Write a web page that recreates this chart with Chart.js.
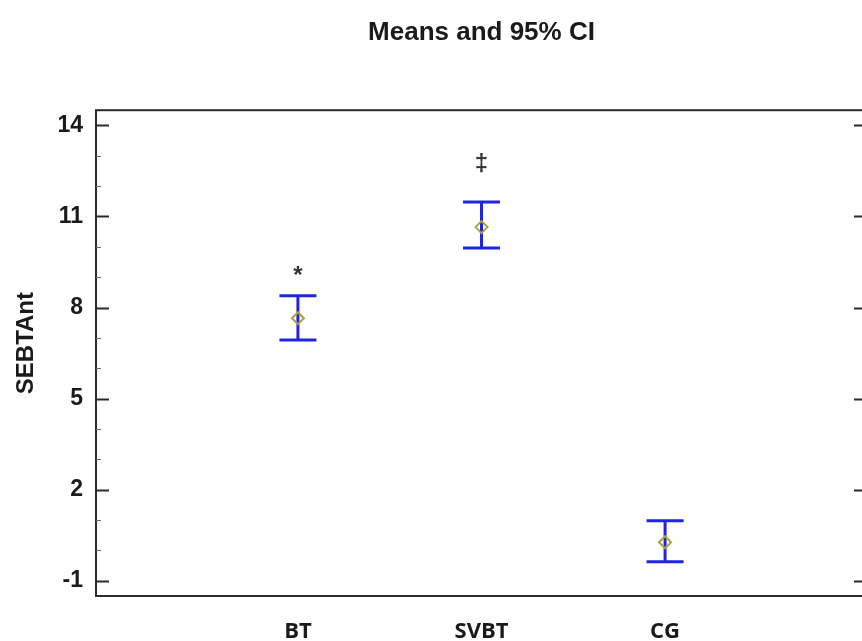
<!DOCTYPE html>
<html>
<head>
<meta charset="utf-8">
<script src="https://cdn.jsdelivr.net/npm/chart.js@4.4.1/dist/chart.umd.min.js"></script>
<style>
  html, body { margin: 0; padding: 0; background: #fff; overflow: hidden; }
</style>
</head>
<body>
<canvas id="chart" width="875" height="641"></canvas>
<script>
// data
const categories = ['BT', 'SVBT', 'CG'];
const means = [7.65, 10.65, 0.27];
const ciLower = [6.93, 9.96, -0.37];
const ciUpper = [8.39, 11.48, 0.98];
const marks = ['*', '\u2021', ''];
const markValues = [9.15, 12.85, null];
const yTicks = [-1, 2, 5, 8, 11, 14];

const blue = '#1f24e0';
const olive = '#a9a33c';
const frameColor = '#2b2b2b';
const textColor = '#1a1a1a';

// error bars, frame, inner ticks, axis title and significance marks
const ciPlugin = {
  id: 'ciBars',
  beforeDatasetsDraw(chart) {
    const { ctx, chartArea: a, scales: { x, y } } = chart;
    ctx.save();

    // frame
    ctx.strokeStyle = frameColor;
    ctx.lineWidth = 2;
    ctx.strokeRect(a.left, a.top, a.right - a.left, a.bottom - a.top);

    // inward ticks on left and right, minor every unit
    for (let v = Math.ceil(y.min); v <= y.max; v++) {
      const py = Math.round(y.getPixelForValue(v)) + 0.5;
      const major = yTicks.includes(v);
      const len = major ? 13 : 5;
      ctx.strokeStyle = major ? frameColor : '#666';
      ctx.lineWidth = major ? 2 : 1;
      ctx.beginPath();
      ctx.moveTo(a.left, py); ctx.lineTo(a.left + len, py);
      ctx.moveTo(a.right, py); ctx.lineTo(a.right - len, py);
      ctx.stroke();
    }

    // confidence intervals
    ctx.strokeStyle = blue;
    ctx.lineWidth = 3;
    categories.forEach((c, i) => {
      const px = x.getPixelForValue(i + 1);
      const lo = y.getPixelForValue(ciLower[i]);
      const hi = y.getPixelForValue(ciUpper[i]);
      const cap = 18.5;
      ctx.beginPath();
      ctx.moveTo(px, lo); ctx.lineTo(px, hi);
      ctx.moveTo(px - cap, lo); ctx.lineTo(px + cap, lo);
      ctx.moveTo(px - cap, hi); ctx.lineTo(px + cap, hi);
      ctx.stroke();
    });

    // marks above the intervals
    ctx.fillStyle = '#333';
    ctx.font = 'bold 24px "Liberation Sans"';
    ctx.textAlign = 'center';
    ctx.textBaseline = 'middle';
    marks.forEach((m, i) => {
      if (!m || markValues[i] == null) return;
      ctx.fillText(m, x.getPixelForValue(i + 1), y.getPixelForValue(markValues[i]) + 4);
    });

    // y axis title (sits a little above the plot centre in the original)
    ctx.translate(26, (a.top + a.bottom) / 2 - 10);
    ctx.rotate(-Math.PI / 2);
    ctx.fillStyle = textColor;
    ctx.font = 'bold 24px "Liberation Sans"';
    ctx.fillText('SEBTAnt', 0, 0);
    ctx.restore();
  }
};

new Chart(document.getElementById('chart'), {
  type: 'scatter',
  data: {
    datasets: [{
      label: 'Mean',
      data: means.map((m, i) => ({ x: i + 1, y: m })),
      pointStyle: 'rectRot',
      pointRadius: 6,
      pointHoverRadius: 6,
      borderColor: olive,
      backgroundColor: 'rgba(0,0,0,0)',
      borderWidth: 2,
    }],
  },
  options: {
    responsive: false,
    animation: false,
    layout: { padding: 0 },
    plugins: {
      legend: { display: false },
      tooltip: { enabled: false },
      title: {
        display: true,
        text: 'Means and 95% CI',
        fullSize: false,
        color: textColor,
        font: { family: 'Liberation Sans', size: 26, weight: 'bold' },
        padding: { top: 17, bottom: 62 },
      },
    },
    scales: {
      x: {
        type: 'linear',
        min: -0.1,
        max: 4.1,
        afterBuildTicks: (s) => { s.ticks = categories.map((c, i) => ({ value: i + 1 })); },
        afterFit: (s) => { s.height = 45; },
        ticks: {
          callback: (v) => categories[v - 1] || '',
          color: textColor,
          font: { family: 'Open Sans', size: 22, weight: 'bold' },
          padding: 23,
          maxRotation: 0,
        },
        grid: { display: false, drawTicks: false },
        border: { display: false },
      },
      y: {
        min: -1.5,
        max: 14.5,
        afterBuildTicks: (s) => { s.ticks = yTicks.map((v) => ({ value: v })); },
        afterFit: (s) => { s.width = 96; },
        ticks: {
          color: textColor,
          font: { family: 'Liberation Sans', size: 23, weight: 'bold' },
          padding: 13,
        },
        grid: { display: false, drawTicks: false },
        border: { display: false },
      },
    },
  },
  plugins: [ciPlugin],
});
</script>
</body>
</html>
